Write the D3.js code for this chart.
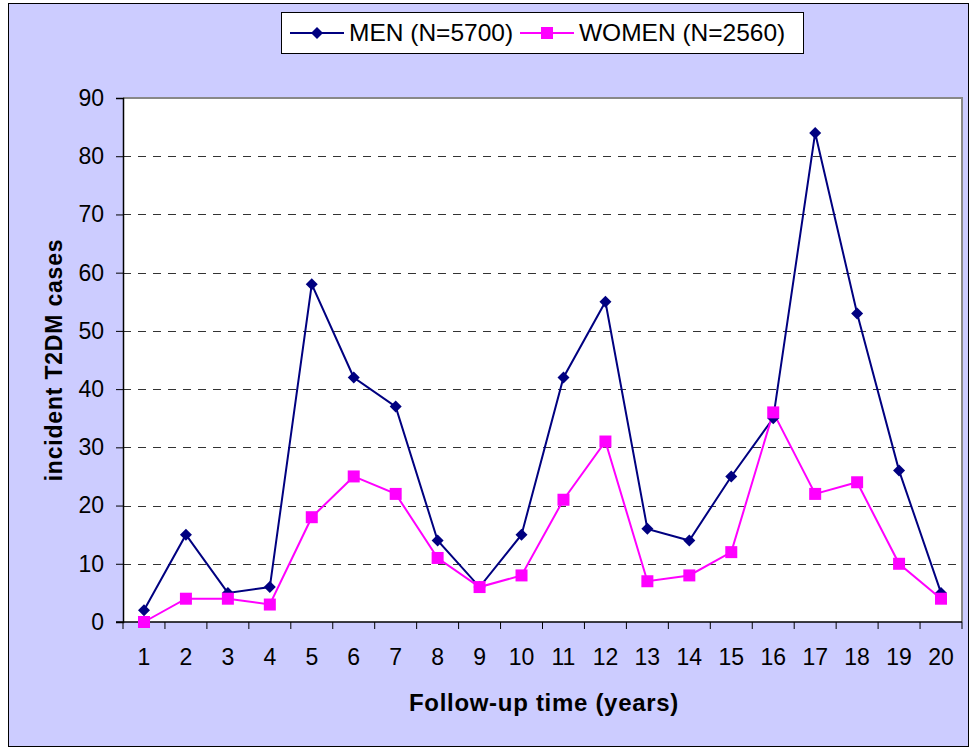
<!DOCTYPE html>
<html>
<head>
<meta charset="utf-8">
<script src="https://cdn.jsdelivr.net/npm/d3@7/dist/d3.min.js"></script>
<style>
body { margin: 0; background: #fff; }
text { font-family: Arial, "Liberation Sans", sans-serif; }
</style>
</head>
<body>
<svg width="970" height="749"></svg>
<script>
// chart data
const years = d3.range(1, 21)
const menCases = [2, 15, 5, 6, 58, 42, 37, 14, 6, 15, 42, 55, 16, 14, 25, 35, 84, 53, 26, 5]
const womenCases = [0, 4, 4, 3, 18, 25, 22, 11, 6, 8, 21, 31, 7, 8, 12, 36, 22, 24, 10, 4]
const yTicks = [0, 10, 20, 30, 40, 50, 60, 70, 80, 90]
const seriesNames = ["MEN (N=5700)", "WOMEN (N=2560)"]

let svg = d3.select("svg")

// outer chart area
svg.append("rect")
  .attr("x", 8.5).attr("y", 3.5)
  .attr("width", 960).attr("height", 743)
  .attr("fill", "#CCCCFF")
  .attr("stroke", "#000")
  .attr("stroke-width", 1)

let pLeft = 123, pTop = 98, pRight = 962, pBottom = 622

let x = d3.scaleBand().domain(years).range([pLeft, pRight])
let y = d3.scaleLinear().domain([0, 90]).range([pBottom, pTop])

// plot area
svg.append("rect")
  .attr("x", pLeft).attr("y", pTop)
  .attr("width", pRight - pLeft).attr("height", pBottom - pTop)
  .attr("fill", "#fff")

// gridlines
svg.append("g")
  .selectAll("line")
  .data(yTicks.slice(1, -1))
  .join("line")
  .attr("x1", pLeft).attr("x2", pRight)
  .attr("y1", d => Math.round(y(d)) + 0.5)
  .attr("y2", d => Math.round(y(d)) + 0.5)
  .attr("stroke", "#333")
  .attr("stroke-width", 1)
  .attr("stroke-dasharray", "8,7")

// plot border top / right (gray)
svg.append("path")
  .attr("d", `M${pLeft},${pTop}H${pRight}V${pBottom}`)
  .attr("fill", "none")
  .attr("stroke", "#888")
  .attr("stroke-width", 2)

// y axis
let yAxis = svg.append("g")
  .attr("transform", `translate(${pLeft},0)`)
  .call(d3.axisLeft(y).tickValues(yTicks).tickSize(7).tickPadding(12))
yAxis.select(".domain").attr("stroke", "#000").attr("stroke-width", 1.5)
yAxis.selectAll("text").attr("font-size", "23px").attr("fill", "#000")
  .attr("font-family", "Arial, 'Liberation Sans', sans-serif")

// x axis: ticks at category boundaries
let xAxisG = svg.append("g")
xAxisG.append("line")
  .attr("x1", pLeft - 7).attr("x2", pRight)
  .attr("y1", pBottom).attr("y2", pBottom)
  .attr("stroke", "#000").attr("stroke-width", 1.5)
xAxisG.selectAll(".tk")
  .data(years.concat([21]))
  .join("line")
  .attr("class", "tk")
  .attr("x1", d => d <= 20 ? x(d) : pRight)
  .attr("x2", d => d <= 20 ? x(d) : pRight)
  .attr("y1", pBottom).attr("y2", pBottom + 7)
  .attr("stroke", "#000").attr("stroke-width", 1)
xAxisG.selectAll("text")
  .data(years)
  .join("text")
  .attr("x", d => x(d) + x.bandwidth() / 2)
  .attr("y", pBottom + 43)
  .attr("text-anchor", "middle")
  .attr("font-size", "23px")
  .text(d => d)

// axis titles
svg.append("text")
  .attr("transform", "translate(62,360) rotate(-90)")
  .attr("text-anchor", "middle")
  .attr("font-size", "23px")
  .attr("font-weight", "bold")
  .attr("letter-spacing", "0.8px")
  .text("incident T2DM cases")

svg.append("text")
  .attr("x", 544)
  .attr("y", 711)
  .attr("text-anchor", "middle")
  .attr("font-size", "24px")
  .attr("font-weight", "bold")
  .attr("letter-spacing", "0.7px")
  .text("Follow-up time (years)")

// series
let cx = d => x(d) + x.bandwidth() / 2
let diamond = d3.symbol().type(d3.symbolSquare).size(72)
let square = d3.symbol().type(d3.symbolSquare).size(144)

let line = d3.line().x((d, i) => cx(years[i])).y(d => y(d))

svg.append("path")
  .datum(menCases)
  .attr("d", line)
  .attr("fill", "none")
  .attr("stroke", "#000080")
  .attr("stroke-width", 2)

svg.append("path")
  .datum(womenCases)
  .attr("d", line)
  .attr("fill", "none")
  .attr("stroke", "#FF00FF")
  .attr("stroke-width", 2)

svg.append("g").selectAll("path")
  .data(menCases)
  .join("path")
  .attr("d", diamond)
  .attr("transform", (d, i) => `translate(${cx(years[i])},${y(d)}) rotate(45)`)
  .attr("fill", "#000080")

svg.append("g").selectAll("path")
  .data(womenCases)
  .join("path")
  .attr("d", square)
  .attr("transform", (d, i) => `translate(${cx(years[i])},${y(d)})`)
  .attr("fill", "#FF00FF")

// legend
let lg = svg.append("g")
lg.append("rect")
  .attr("x", 281.5).attr("y", 12.5)
  .attr("width", 522).attr("height", 41)
  .attr("fill", "#fff")
  .attr("stroke", "#000")

let legendItems = [
  { name: seriesNames[0], color: "#000080", x0: 290, shape: "diamond" },
  { name: seriesNames[1], color: "#FF00FF", x0: 520, shape: "square" }
]
legendItems.forEach(it => {
  lg.append("line")
    .attr("x1", it.x0).attr("x2", it.x0 + 54)
    .attr("y1", 33).attr("y2", 33)
    .attr("stroke", it.color).attr("stroke-width", 2)
  if (it.shape == "diamond") {
    lg.append("path")
      .attr("d", diamond)
      .attr("transform", `translate(${it.x0 + 27},33) rotate(45)`)
      .attr("fill", it.color)
  } else {
    lg.append("path")
      .attr("d", square)
      .attr("transform", `translate(${it.x0 + 27},33)`)
      .attr("fill", it.color)
  }
  lg.append("text")
    .attr("x", it.x0 + 59)
    .attr("y", 41)
    .attr("font-size", "24.5px")
    .text(it.name)
})
</script>
</body>
</html>
